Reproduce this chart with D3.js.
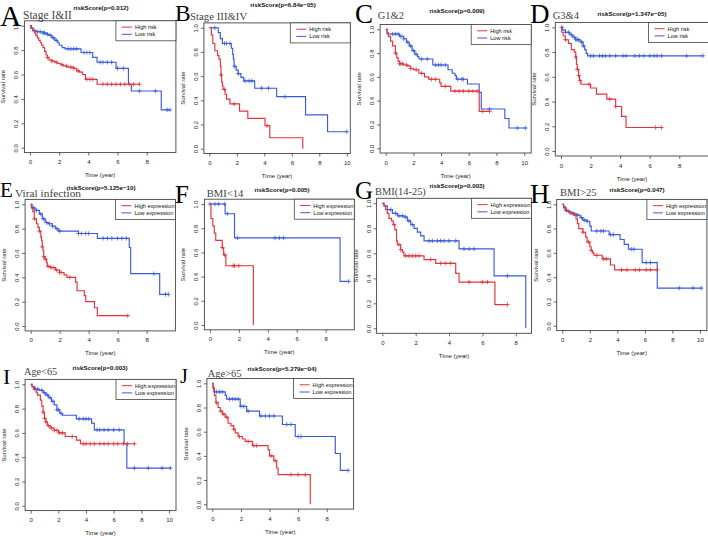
<!DOCTYPE html>
<html><head><meta charset="utf-8">
<script src="https://cdn.jsdelivr.net/npm/d3@7"></script>
<style>body{margin:0;background:#fff}svg{display:block}</style>
</head><body>
<svg id="c" width="708" height="536"></svg>
<script>
// ---------- DATA (time in years, survival probability) ----------
const panelLetters = ["A","B","C","D","E","F","G","H","I","J"];
const subtitles = ["Stage I&II","Stage III&IV","G1&2","G3&4","Viral infection","BMI<14","BMI(14-25)","BMI>25","Age<65","Age>65"];
const pValues = ["0.012","6.84e\u221205","0.009","1.347e\u221205","5.125e\u221210","0.005","0.003","0.047","0.003","5.279e\u221204"];
const legendRisk = ["High risk","Low risk"];
const legendExpr = ["High expression","Low expression"];
const yTicks = [0,0.2,0.4,0.6,0.8,1.0];
const xTickMax = [8,10,10,8,8,8,8,10,10,8];

// High group steps [time, survival] / censor times / end time
const highA = [[0.1,0.98],[0.2,0.96],[0.3,0.94],[0.4,0.92],[0.5,0.9],[0.6,0.88],[0.7,0.86],[0.8,0.84],[0.9,0.82],[1.0,0.79],[1.1,0.76],[1.2,0.74],[1.3,0.72],[1.5,0.71],[1.7,0.70],[1.9,0.69],[2.1,0.68],[2.3,0.67],[2.6,0.66],[3.0,0.65],[3.2,0.63],[3.4,0.62],[3.6,0.60],[3.8,0.56],[4.6,0.52]];
const highAc = [1.2,1.5,1.8,2.2,2.5,2.8,3.0,3.3,3.9,4.1,4.3,5.0,5.3,5.6,5.9,6.2,6.5,6.8,7.1,7.5];
const lowA = [[0.05,0.98],[0.2,0.96],[0.4,0.95],[0.9,0.94],[1.1,0.93],[1.3,0.92],[1.5,0.90],[1.7,0.88],[1.9,0.86],[2.0,0.84],[2.2,0.82],[2.4,0.81],[3.5,0.78],[4.3,0.74],[4.6,0.70],[5.9,0.65],[6.75,0.52],[6.95,0.465],[9.0,0.31]];
const lowAc = [0.3,0.5,0.7,0.9,1.0,1.2,1.4,1.6,1.8,2.6,2.8,3.0,3.2,3.7,3.9,4.1,4.8,5.0,5.3,5.6,6.0,6.4,7.5,8.6,9.4,9.6];

const highB = [[0.15,0.94],[0.25,0.87],[0.4,0.81],[0.6,0.77],[0.7,0.74],[0.8,0.68],[0.85,0.61],[0.9,0.55],[0.95,0.52],[1.0,0.49],[1.15,0.45],[1.25,0.41],[1.5,0.37],[2.2,0.31],[2.8,0.25],[4.05,0.19],[4.4,0.09],[6.8,0.0]];
const highBc = [0.85,1.1,1.8,4.2];
const lowB = [[0.65,0.96],[0.8,0.91],[0.95,0.87],[1.6,0.83],[1.7,0.78],[1.75,0.74],[1.8,0.68],[1.95,0.65],[2.1,0.62],[2.3,0.59],[2.5,0.56],[3.3,0.50],[4.9,0.43],[7.0,0.28],[8.6,0.14]];
const lowBc = [0.4,1.1,1.25,1.5,1.85,2.1,2.6,2.9,3.1,3.8,4.3,5.5,10.0];

const highC = [[0.1,0.97],[0.2,0.94],[0.35,0.90],[0.5,0.86],[0.7,0.80],[0.8,0.76],[0.9,0.73],[1.0,0.71],[1.3,0.70],[1.6,0.69],[1.8,0.67],[2.0,0.66],[2.4,0.63],[2.8,0.60],[3.1,0.58],[3.9,0.55],[4.0,0.52],[4.7,0.48],[6.75,0.31]];
const highCc = [0.7,1.0,1.1,1.2,1.5,1.8,2.2,2.6,3.3,3.6,4.3,5.0,5.3,5.6,6.0,6.3,6.6,7.0,7.5];
const lowC = [[0.1,0.96],[1.0,0.94],[1.3,0.92],[1.5,0.89],[1.7,0.86],[1.9,0.82],[2.1,0.79],[2.3,0.77],[2.4,0.75],[3.4,0.70],[4.5,0.66],[4.8,0.63],[5.0,0.61],[5.1,0.58],[5.9,0.54],[6.75,0.47],[6.9,0.33],[8.6,0.25],[8.9,0.17]];
const lowCc = [0.5,0.7,0.9,1.1,1.3,1.6,1.8,2.0,2.2,2.6,3.0,3.6,3.8,4.0,4.3,5.2,5.5,5.6,7.5,9.5,10.1];

const highD = [[0.05,0.96],[0.15,0.93],[0.3,0.90],[0.5,0.87],[0.7,0.82],[0.9,0.80],[1.0,0.76],[1.05,0.70],[1.1,0.66],[1.2,0.61],[1.25,0.57],[1.35,0.54],[2.0,0.51],[2.4,0.46],[3.1,0.42],[3.7,0.36],[4.1,0.28],[4.4,0.19]];
const highDc = [0.3,1.0,1.1,1.2,1.3,1.9,3.3,3.7,6.4,6.8];
const lowD = [[0.1,0.98],[0.3,0.96],[0.6,0.94],[0.8,0.92],[1.0,0.90],[1.3,0.88],[1.5,0.85],[1.6,0.82],[1.7,0.79],[1.8,0.77]];
const lowDc = [0.05,0.3,0.5,0.7,0.9,1.0,1.1,1.2,1.4,1.5,2.0,2.2,2.6,2.8,3.0,3.3,3.7,4.2,4.4,5.0,5.3,5.6,6.0,6.3,6.5,6.8,8.5,9.6];

const highE = [[0.05,0.97],[0.15,0.94],[0.25,0.88],[0.4,0.84],[0.5,0.81],[0.6,0.78],[0.7,0.73],[0.75,0.70],[0.8,0.65],[0.85,0.62],[0.9,0.57],[1.0,0.55],[1.1,0.52],[1.15,0.49],[1.4,0.48],[1.7,0.46],[2.0,0.44],[2.3,0.42],[2.5,0.40],[3.1,0.36],[3.2,0.29],[3.7,0.25],[3.8,0.20],[4.4,0.15],[4.6,0.085]];
const highEc = [0.25,0.6,0.8,0.9,1.0,1.2,1.4,1.6,1.8,2.0,2.1,2.7,6.7];
const lowE = [[0.1,0.97],[0.3,0.95],[0.6,0.92],[0.8,0.88],[1.0,0.85],[1.2,0.84],[1.5,0.82],[1.7,0.80],[1.9,0.78],[3.3,0.76],[4.6,0.72],[6.8,0.645],[6.9,0.43],[8.9,0.26]];
const lowEc = [0.2,0.4,0.7,0.9,1.1,1.3,1.5,1.8,2.0,3.3,3.5,3.8,4.0,5.0,5.3,5.6,6.0,6.3,6.6,8.5,9.3,9.5];

const highF = [[0.07,0.88],[0.2,0.82],[0.3,0.76],[0.4,0.70],[0.85,0.64],[0.95,0.58],[1.1,0.49],[3.0,0.0]];
const highFc = [0.85,1.0,1.6,1.7,2.0];
const lowF = [[1.05,0.92],[1.7,0.72],[9.0,0.36]];
const lowFc = [0.0,0.35,0.6,1.0,1.2,1.9,4.5,4.8,5.1,9.6];

const highG = [[0.1,0.98],[0.2,0.95],[0.3,0.92],[0.4,0.88],[0.55,0.86],[0.65,0.83],[0.75,0.79],[0.85,0.70],[0.9,0.67],[1.1,0.63],[1.2,0.61],[1.3,0.58],[2.5,0.55],[3.2,0.52],[4.4,0.44],[4.6,0.37],[6.75,0.19]];
const highGc = [0.7,1.0,1.1,1.4,1.6,1.8,2.0,2.2,2.9,3.5,3.8,4.1,5.2,6.0,6.3,7.5];
const lowG = [[0.1,0.98],[0.3,0.95],[0.6,0.92],[0.9,0.90],[1.3,0.89],[1.5,0.86],[1.7,0.83],[1.9,0.80],[2.1,0.77],[2.3,0.74],[2.5,0.70],[4.6,0.635],[6.7,0.42],[8.6,0.0]];
const lowGc = [0.5,0.8,1.0,1.2,1.4,1.6,1.8,2.8,3.0,3.3,3.5,3.7,4.0,4.4,4.9,5.2,5.5,7.5];

const highH = [[0.1,0.97],[0.3,0.94],[0.5,0.93],[0.8,0.91],[1.0,0.88],[1.1,0.84],[1.2,0.80],[1.5,0.77],[1.7,0.73],[1.8,0.69],[2.0,0.65],[2.1,0.62],[2.2,0.60],[2.3,0.58],[2.9,0.55],[3.5,0.50],[3.8,0.46]];
const highHc = [0.6,1.5,1.9,2.1,2.5,3.0,3.2,4.3,4.7,5.3,5.6,6.1,6.4,6.9];
const lowH = [[0.1,0.98],[0.2,0.95],[0.5,0.93],[0.8,0.92],[1.0,0.91],[1.3,0.89],[1.5,0.87],[1.8,0.86],[2.0,0.82],[2.1,0.78],[3.4,0.75],[4.2,0.71],[4.5,0.67],[4.8,0.63],[5.8,0.52],[6.9,0.31]];
const lowHc = [0.3,0.7,0.9,1.1,1.4,1.6,1.8,2.5,2.8,3.0,3.5,3.7,5.0,5.2,6.1,6.4,8.5,9.5,10.1];

const highI = [[0.1,0.98],[0.2,0.96],[0.4,0.93],[0.5,0.91],[0.7,0.87],[0.8,0.82],[0.9,0.77],[1.0,0.72],[1.1,0.69],[1.2,0.66],[1.4,0.64],[1.7,0.62],[2.0,0.60],[2.5,0.57],[3.3,0.54],[3.6,0.51]];
const highIc = [0.9,1.0,1.1,1.3,1.5,1.7,1.9,2.1,2.3,3.0,3.8,4.0,4.3,4.6,5.0,5.3,5.6,6.0,6.3,6.7,7.0,7.5];
const lowI = [[0.1,0.98],[0.3,0.96],[0.6,0.95],[0.9,0.93],[1.1,0.91],[1.3,0.89],[1.5,0.86],[1.7,0.83],[1.9,0.79],[2.1,0.76],[2.3,0.745],[3.3,0.715],[4.4,0.68],[4.6,0.625],[6.75,0.51],[6.95,0.31]];
const lowIc = [0.3,0.5,0.8,1.0,1.2,1.4,1.6,1.9,2.0,2.2,3.5,3.8,4.0,4.2,4.8,5.0,5.3,5.6,6.0,6.4,7.5,8.5,9.5,10.1];

const highJ = [[0.05,0.96],[0.15,0.90],[0.25,0.84],[0.4,0.80],[0.55,0.77],[0.7,0.745],[0.9,0.72],[1.1,0.67],[1.3,0.65],[1.5,0.62],[1.6,0.59],[1.8,0.56],[2.1,0.54],[2.3,0.52],[2.8,0.485],[3.9,0.45],[4.0,0.40],[4.3,0.36],[4.5,0.30],[4.6,0.245],[6.85,0.0]];
const highJc = [0.3,0.6,0.8,1.0,1.5,1.9,2.5,2.9,3.1,4.1,4.4,5.5,6.0,6.5];
const lowJ = [[0.05,0.97],[0.1,0.93],[0.9,0.90],[1.0,0.87],[1.95,0.81],[2.4,0.77],[3.3,0.73],[4.9,0.66],[5.8,0.56],[8.6,0.42],[8.95,0.28]];
const lowJc = [0.3,0.5,0.7,1.2,1.4,1.6,1.8,2.0,2.2,2.5,3.4,3.7,4.0,4.3,5.2,5.5,6.0,6.2,9.5];

const highSteps = [highA,highB,highC,highD,highE,highF,highG,highH,highI,highJ];
const highCens  = [highAc,highBc,highCc,highDc,highEc,highFc,highGc,highHc,highIc,highJc];
const highEnd   = [7.5,6.8,7.5,6.8,6.7,3.0,7.5,6.95,7.5,6.85];
const lowSteps  = [lowA,lowB,lowC,lowD,lowE,lowF,lowG,lowH,lowI,lowJ];
const lowCens   = [lowAc,lowBc,lowCc,lowDc,lowEc,lowFc,lowGc,lowHc,lowIc,lowJc];
const lowEnd    = [9.6,10.0,10.1,9.6,9.5,9.6,8.6,10.1,10.1,9.5];

// ---------- LAYOUT ----------
const layout = [
 {l:24.4,r:175.9,t:20.8,b:152.6,M:9.62, title:[101,7.5],  sub:[23,19,11.5],   let:[0,25.5,29.5]},
 {l:203.9,r:350.3,t:22.9,b:153.5,M:9.86,title:[283,4.5],  sub:[190,20,10.8],  let:[175,21,23.5]},
 {l:380.1,r:531.2,t:24.5,b:153,M:10.1,  title:[457,10],   sub:[377.7,19,10.5],let:[355,23,27]},
 {l:555.3,r:708.6,t:22.4,b:156,M:9.6,   title:[632,13],   sub:[552.7,19,10.5],let:[530,23,27]},
 {l:25.1,r:175.4,t:199.4,b:330.9,M:9.6, title:[101,187],  sub:[15,196.7,11.4],let:[0,197,21]},
 {l:204.4,r:354.3,t:199.2,b:329.8,M:9.6,title:[282,189],  sub:[206.7,196.7,10.6],let:[175,203,25]},
 {l:376.6,r:531.5,t:198.3,b:333.3,M:8.6,title:[457,185],  sub:[375,195,10.4], let:[355,198.5,25]},
 {l:556.7,r:706.9,t:199.4,b:330.6,M:10.1,title:[637,189], sub:[560,196,10.6], let:[530,203,27]},
 {l:25.1,r:176,t:379.4,b:510.6,M:10.1,  title:[100,367],  sub:[24,375,10.3],  let:[3,383.5,22]},
 {l:206.9,r:353.6,t:378.5,b:509.1,M:9.5,title:[282,368],  sub:[207.7,376.7,10.5],let:[180,383,20]}
];
const RED = "#e3323a", BLUE = "#3a5bd9", AX = "#444";
const SANS = "'Liberation Sans', Arial, sans-serif", SERIF = "'Liberation Serif', 'Times New Roman', serif";

const svg = d3.select("#c");
svg.append("rect").attr("width",708).attr("height",536).attr("fill","#fff");

function survAt(steps, t){ let s=1; for(const [tt,ss] of steps){ if(tt<=t) s=ss; else break; } return s; }

layout.forEach((L,i)=>{
  const g = svg.append("g");
  const x = d3.scaleLinear().domain([-0.04*L.M, 1.04*L.M]).range([L.l, L.r]);
  const y = d3.scaleLinear().domain([-0.04, 1.04]).range([L.b, L.t]);
  // box
  g.append("rect").attr("x",L.l).attr("y",L.t).attr("width",L.r-L.l).attr("height",L.b-L.t)
    .attr("fill","none").attr("stroke",AX).attr("stroke-width",0.9);
  // axes
  const xt = d3.range(0, xTickMax[i]+0.01, 2);
  const xa = g.append("g").attr("transform",`translate(0,${L.b})`)
    .call(d3.axisBottom(x).tickValues(xt).tickFormat(d3.format("d")).tickSize(3).tickPadding(2));
  const ya = g.append("g").attr("transform",`translate(${L.l},0)`)
    .call(d3.axisLeft(y).tickValues(yTicks).tickFormat(d3.format(".1f")).tickSize(3).tickPadding(2));
  [xa,ya].forEach(a=>{
    a.select(".domain").remove();
    a.selectAll("line").attr("stroke",AX).attr("stroke-width",0.8);
    a.selectAll("text").attr("font-family",SANS).attr("font-size",6).attr("fill","#222");
  });
  ya.selectAll(".tick text").attr("text-anchor","middle").attr("x",null).attr("dy",null)
    .attr("transform","translate(-8,0) rotate(-90)").attr("dominant-baseline","central");
  xa.selectAll(".tick text").attr("dy",null).attr("y",9.5).attr("dominant-baseline","central");
  // axis titles
  g.append("text").attr("x",(L.l+L.r)/2).attr("y",L.b+22.5).attr("text-anchor","middle")
    .attr("dominant-baseline","central").attr("font-family",SANS).attr("font-size",6).attr("fill","#222").text("Time (year)");
  g.append("text").attr("transform",`translate(${L.l-21},${(L.t+L.b)/2}) rotate(-90)`).attr("text-anchor","middle")
    .attr("dominant-baseline","central").attr("font-family",SANS).attr("font-size",6).attr("fill","#222").text("Survival rate");
  // title
  g.append("text").attr("x",L.title[0]).attr("y",L.title[1]).attr("text-anchor","middle").attr("dominant-baseline","central")
    .attr("font-family",SANS).attr("font-weight","bold").attr("font-size",6.2).attr("fill","#111").text(`riskScore(p=${pValues[i]})`);
  // subtitle and letter
  g.append("text").attr("x",L.sub[0]).attr("y",L.sub[1]).attr("font-family",SERIF).attr("font-size",L.sub[2]).attr("fill","#444").text(subtitles[i]);
  g.append("text").attr("x",L.let[0]).attr("y",L.let[1]).attr("font-family",SERIF).attr("font-size",L.let[2]).attr("fill","#000").text(panelLetters[i]);
  // curves
  const line = d3.line().x(d=>x(d[0])).y(d=>y(d[1])).curve(d3.curveStepAfter);
  const curves = [
    {steps:lowSteps[i], cens:lowCens[i], end:lowEnd[i], col:BLUE},
    {steps:highSteps[i], cens:highCens[i], end:highEnd[i], col:RED}
  ];
  curves.forEach(c=>{
    const last = c.steps.length ? c.steps[c.steps.length-1][1] : 1;
    const pts = [[0,1], ...c.steps, [c.end, last]];
    g.append("path").attr("d",line(pts)).attr("fill","none").attr("stroke",c.col).attr("stroke-width",1.15);
    const cm = g.append("g");
    c.cens.forEach(t=>{
      const cx = x(t), cy = y(survAt(c.steps,t));
      cm.append("path").attr("d",`M${cx-2.2},${cy}H${cx+2.2}M${cx},${cy-2.2}V${cy+2.2}`)
        .attr("stroke",c.col).attr("stroke-width",0.8);
    });
  });
  // legend (topright)
  const labs = i<4 ? legendRisk : legendExpr;
  const lw = 60, lh = 20;
  const lx = L.r - lw, ly = L.t;
  g.append("rect").attr("x",lx).attr("y",ly).attr("width",lw).attr("height",lh).attr("fill","#fff").attr("stroke",AX).attr("stroke-width",0.8);
  [RED,BLUE].forEach((col,k)=>{
    const yy = ly + 6.3 + k*7.2;
    g.append("line").attr("x1",lx+6).attr("x2",lx+16).attr("y1",yy).attr("y2",yy).attr("stroke",col).attr("stroke-width",1);
    g.append("text").attr("x",lx+19).attr("y",yy).attr("dominant-baseline","central").attr("font-family",SANS)
      .attr("font-size",5.6).attr("fill","#111").text(labs[k]);
  });
});
</script>
</body></html>
